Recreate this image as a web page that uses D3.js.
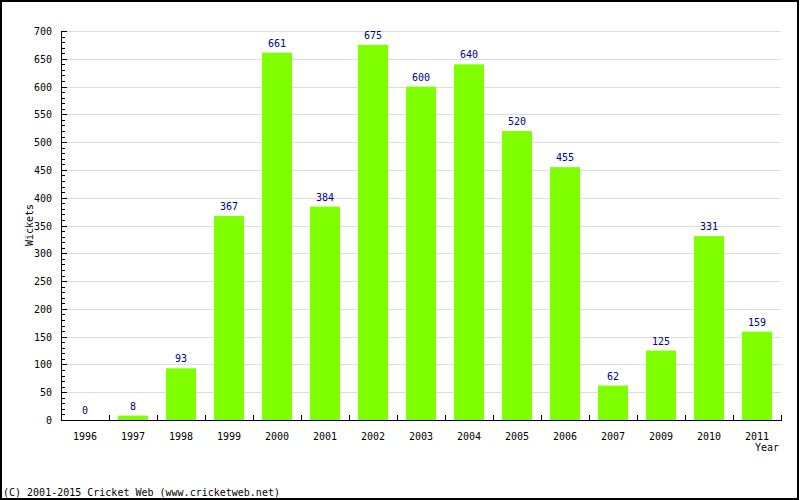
<!DOCTYPE html>
<html>
<head>
<meta charset="utf-8">
<script src="https://cdn.jsdelivr.net/npm/d3@7"></script>
<style>
  body { margin: 0; background: #fff; }
  svg text { font-family: "DejaVu Sans Mono", monospace; font-size: 10px; }
</style>
</head>
<body>
<svg id="chart" width="800" height="500"></svg>
<script>
const years = ["1996","1997","1998","1999","2000","2001","2002","2003","2004","2005","2006","2007","2009","2010","2011"];
const wickets = [0, 8, 93, 367, 661, 384, 675, 600, 640, 520, 455, 62, 125, 331, 159];
const yTicks = [0,50,100,150,200,250,300,350,400,450,500,550,600,650,700];

const margin = { top: 31, right: 19, bottom: 80, left: 61 };
const width = 800, height = 500;
const innerW = width - margin.left - margin.right;
const innerH = height - margin.top - margin.bottom;

const svg = d3.select("#chart");

// border
svg.append("rect")
  .attr("x", 1).attr("y", 1)
  .attr("width", width - 3).attr("height", height - 2)
  .attr("fill", "#fff").attr("stroke", "#000").attr("stroke-width", 2);

const g = svg.append("g").attr("transform", `translate(${margin.left},${margin.top})`);

const x = d3.scaleBand().domain(years).range([0, innerW]);
const y = d3.scaleLinear().domain([0, 700]).range([innerH, 0]);

// gridlines
g.selectAll(".grid")
  .data(yTicks.filter(d => d > 0))
  .join("line")
  .attr("x1", 5).attr("x2", innerW)
  .attr("y1", d => Math.round(y(d)) + 0.5).attr("y2", d => Math.round(y(d)) + 0.5)
  .attr("stroke", "#dcdcdc");

// bars
g.selectAll(".bar")
  .data(wickets)
  .join("rect")
  .attr("x", (d, i) => Math.round(x(years[i]) + 9))
  .attr("width", 30)
  .attr("y", d => y(d))
  .attr("height", d => innerH - y(d))
  .attr("fill", "#80ff00");

// value labels
g.selectAll(".lbl")
  .data(wickets)
  .join("text")
  .attr("x", (d, i) => x(years[i]) + 24)
  .attr("y", d => y(d) - 6)
  .attr("text-anchor", "middle")
  .attr("fill", "#000080")
  .text(d => d);

// y axis
const yAxis = g.append("g");
yAxis.append("line")
  .attr("x1", 0.5).attr("x2", 0.5).attr("y1", 0).attr("y2", innerH)
  .attr("stroke", "#000");
yAxis.selectAll(".minor")
  .data(d3.range(0, 701, 10))
  .join("line")
  .attr("x1", 0).attr("x2", d => d % 50 === 0 ? 6 : 4)
  .attr("y1", d => Math.round(y(d)) + 0.5).attr("y2", d => Math.round(y(d)) + 0.5)
  .attr("stroke", "#000");
yAxis.selectAll(".ylbl")
  .data(yTicks)
  .join("text")
  .attr("x", -9)
  .attr("y", d => y(d) + 4)
  .attr("text-anchor", "end")
  .attr("fill", "#000")
  .text(d => d);

// x axis
const xAxis = g.append("g").attr("transform", `translate(0,${innerH})`);
xAxis.append("line")
  .attr("x1", 0).attr("x2", innerW + 1).attr("y1", 0.5).attr("y2", 0.5)
  .attr("stroke", "#000");
xAxis.selectAll(".xtick")
  .data(years.slice(1).concat(["end"]))
  .join("line")
  .attr("x1", (d, i) => Math.round(x.step() * (i + 1)) + 0.5)
  .attr("x2", (d, i) => Math.round(x.step() * (i + 1)) + 0.5)
  .attr("y1", -5).attr("y2", 0)
  .attr("stroke", "#000");
xAxis.selectAll(".xlbl")
  .data(years)
  .join("text")
  .attr("x", d => x(d) + x.bandwidth() / 2)
  .attr("y", 20)
  .attr("text-anchor", "middle")
  .attr("fill", "#000")
  .text(d => d);

// axis titles
svg.append("text")
  .attr("x", margin.left + innerW - 2)
  .attr("y", 451)
  .attr("text-anchor", "end")
  .text("Year");
svg.append("text")
  .attr("transform", "translate(33,225) rotate(-90)")
  .attr("text-anchor", "middle")
  .text("Wickets");

svg.append("text")
  .attr("x", 3)
  .attr("y", 496)
  .text("(C) 2001-2015 Cricket Web (www.cricketweb.net)");
</script>
</body>
</html>
